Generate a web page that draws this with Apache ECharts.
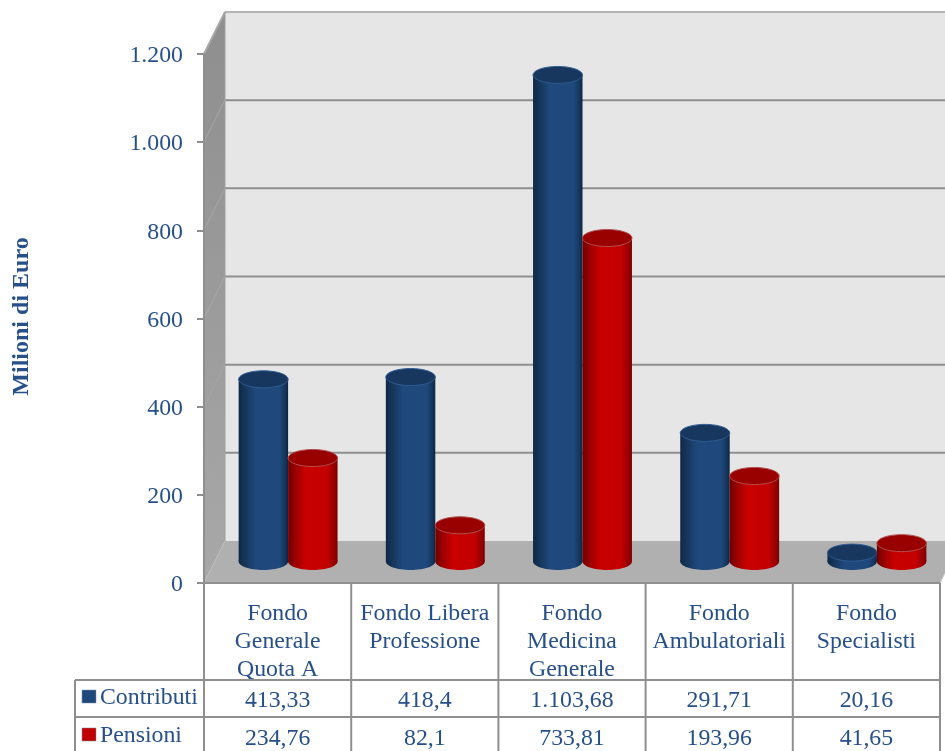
<!DOCTYPE html>
<html>
<head>
<meta charset="utf-8">
<title>Contributi e pensioni</title>
<script src="https://cdn.jsdelivr.net/npm/echarts@6/dist/echarts.min.js"></script>
<style>
  html, body { margin: 0; padding: 0; background: #fff; }
  #chart { width: 945px; height: 751px; }
</style>
</head>
<body>
<div id="chart"></div>
<script>
const categories = [
  'Fondo\nGenerale\nQuota A',
  'Fondo Libera\nProfessione',
  'Fondo\nMedicina\nGenerale',
  'Fondo\nAmbulatoriali',
  'Fondo\nSpecialisti'
]
const contributi = [413.33, 418.4, 1103.68, 291.71, 20.16]
const pensioni = [234.76, 82.1, 733.81, 193.96, 41.65]
const contributiLabels = ['413,33', '418,4', '1.103,68', '291,71', '20,16']
const pensioniLabels = ['234,76', '82,1', '733,81', '193,96', '41,65']
const yTicks = [0, 200, 400, 600, 800, 1000, 1200]

const font = 'Liberation Serif'
const fontSize = 23.8
const textColor = '#27508a'
const lineColor = '#8f8f8f'
const blue = '#1f497d'
const red = '#c00000'
// 3d depth of the box, in pixels
const depthX = 21
const depthY = -42

const linear = (stops) => ({
  type: 'linear', x: 0, y: 0, x2: 1, y2: 0,
  colorStops: stops.map(s => ({ offset: s[0], color: s[1] }))
})

function renderCylinder(side, body, top, rim) {
  return function (params, api) {
    const band = api.size([1, 0])[0]
    const rx = band * 0.168
    const ry = 8.5
    const base = api.coord([api.value(0), 0])
    const head = api.coord([api.value(0), api.value(1)])
    const cx = base[0] + depthX / 2 + side * rx
    const y0 = base[1] + depthY / 2 - 0.5
    const y1 = head[1] + depthY / 2 - 0.5
    const fill = { fill: linear(body) }
    return {
      type: 'group',
      children: [
        { type: 'ellipse', shape: { cx: cx, cy: y0, rx: rx, ry: ry }, style: fill },
        { type: 'rect', shape: { x: cx - rx, y: y1, width: rx * 2, height: y0 - y1 }, style: fill },
        { type: 'ellipse', shape: { cx: cx, cy: y1, rx: rx, ry: ry }, style: { fill: top, stroke: rim, lineWidth: 1 } }
      ]
    }
  }
}

// walls and floor of the box, hung on the axis coordinates
function renderBox(params, api) {
  const left = params.coordSys.x
  const right = left + params.coordSys.width
  const y0 = api.coord([0, 0])[1]
  const yTop = api.coord([0, 1200])[1]
  const children = [
    { type: 'polygon', shape: { points: [[left + depthX, yTop + depthY], [right + depthX, yTop + depthY], [right + depthX, y0 + depthY], [left + depthX, y0 + depthY]] }, style: { fill: '#e6e6e6' } },
    { type: 'polygon', shape: { points: [[left, yTop], [left + depthX, yTop + depthY], [left + depthX, y0 + depthY], [left, y0]] },
      style: { fill: { type: 'linear', x: 0, y: 0, x2: 0, y2: 1, colorStops: [{ offset: 0, color: '#8e8e8e' }, { offset: 1, color: '#a8a8a8' }] } } },
    { type: 'polygon', shape: { points: [[left, y0], [left + depthX, y0 + depthY], [right + depthX, y0 + depthY], [right, y0]] }, style: { fill: '#b0b0b0' } }
  ]
  yTicks.forEach(t => {
    if (t === 0) return
    const y = api.coord([0, t])[1]
    children.push({ type: 'line', shape: { x1: left + depthX, y1: y + depthY, x2: right + depthX, y2: y + depthY }, style: { stroke: t === 1200 ? '#b4b4b4' : lineColor, lineWidth: 2 } })
    children.push({ type: 'line', shape: { x1: left, y1: y, x2: left + depthX, y2: y + depthY }, style: { stroke: '#a6a6a6', lineWidth: 1 } })
  })
  children.push({ type: 'line', shape: { x1: left, y1: yTop, x2: left + depthX, y2: yTop + depthY }, style: { stroke: '#a6a6a6', lineWidth: 2 } })
  children.push({ type: 'line', shape: { x1: left + depthX, y1: yTop + depthY, x2: left + depthX, y2: y0 + depthY }, style: { stroke: '#a0a0a0', lineWidth: 1 } })
  children.push({ type: 'line', shape: { x1: left, y1: y0, x2: left + depthX, y2: y0 + depthY }, style: { stroke: '#bdbdbd', lineWidth: 1 } })
  children.push({ type: 'line', shape: { x1: right, y1: y0, x2: right + depthX, y2: y0 + depthY }, style: { stroke: '#c8c8c8', lineWidth: 1 } })
  return { type: 'group', children: children }
}

// data table under the chart, with the legend keys in its first column
function renderTable(params, api) {
  const left = params.coordSys.x
  const band = params.coordSys.width / categories.length
  const right = left + params.coordSys.width
  const y0 = api.coord([0, 0])[1]
  const row1 = 680
  const row2 = 717
  const bottom = 751
  const tableLeft = 75
  const line = (x1, y1, x2, y2) => ({ type: 'line', shape: { x1, y1, x2, y2 }, style: { stroke: lineColor, lineWidth: 2 } })
  const children = [
    line(left, y0, right, y0),
    line(tableLeft, row1, right, row1),
    line(tableLeft, row2, right, row2),
    line(tableLeft, row1, tableLeft, bottom)
  ]
  for (let i = 0; i <= categories.length; i++) {
    const x = left + band * i
    children.push(line(x, y0, x, bottom))
  }
  const cell = (text, x, y, align) => ({
    type: 'text',
    style: { text: text, x: x, y: y, fill: textColor, font: fontSize + 'px "' + font + '"', textAlign: align || 'center', textVerticalAlign: 'middle' }
  })
  const key = (color, y) => ({ type: 'rect', shape: { x: 82, y: y, width: 14, height: 13 }, style: { fill: color, stroke: '#7f8fa6', lineWidth: 0.5 } })
  children.push(key(blue, 690), cell('Contributi', 100, 698, 'left'))
  children.push(key(red, 728), cell('Pensioni', 100, 736, 'left'))
  categories.forEach((c, i) => {
    const x = left + band * (i + 0.5)
    children.push(cell(contributiLabels[i], x, 701))
    children.push(cell(pensioniLabels[i], x, 739))
  })
  return { type: 'group', children: children }
}

const option = {
  backgroundColor: '#fff',
  animation: false,
  textStyle: { fontFamily: font, color: textColor },
  grid: { left: 204, right: 5, top: 54, bottom: 168 },
  xAxis: {
    type: 'category',
    data: categories,
    axisLine: { show: false },
    axisTick: { show: false },
    axisLabel: { interval: 0, margin: 17, fontFamily: font, fontSize: fontSize, lineHeight: 28, color: textColor }
  },
  yAxis: {
    type: 'value',
    min: 0,
    max: 1200,
    interval: 200,
    name: 'Milioni di Euro',
    nameLocation: 'middle',
    nameRotate: 90,
    nameGap: 170,
    nameTextStyle: { fontFamily: font, fontSize: 24, fontWeight: 'bold', color: textColor, padding: [0, 0, 0, 4] },
    axisLine: { show: true, lineStyle: { color: lineColor, width: 2 } },
    axisTick: { show: true, length: 7, lineStyle: { color: lineColor, width: 2 } },
    splitLine: { show: false },
    axisLabel: {
      margin: 21,
      formatter: v => '{n|' + (v >= 1000 ? String(v).replace(/(\d)(\d{3})$/, '$1.$2') : String(v)) + '}',
      rich: { n: { fontFamily: font, fontSize: fontSize, color: textColor, padding: [4, 0, 0, 0] } }
    }
  },
  series: [
    { type: 'custom', name: 'box', z: 0, silent: true, renderItem: renderBox, data: [[0, 0]] },
    {
      type: 'custom',
      name: 'Contributi',
      z: 3,
      itemStyle: { color: blue },
      encode: { x: 0, y: 1 },
      renderItem: renderCylinder(-1, [[0, '#0e2846'], [0.12, '#153558'], [0.35, '#1f497d'], [0.82, '#1f497d'], [0.95, '#14345a'], [1, '#0c2340']], '#17375e', '#2f5c92'),
      data: contributi.map((v, i) => [i, v])
    },
    {
      type: 'custom',
      name: 'Pensioni',
      z: 4,
      itemStyle: { color: red },
      encode: { x: 0, y: 1 },
      renderItem: renderCylinder(1, [[0, '#6e0000'], [0.12, '#940000'], [0.35, '#c80000'], [0.78, '#c40000'], [0.95, '#900000'], [1, '#780000']], '#990000', '#b05050'),
      data: pensioni.map((v, i) => [i, v])
    },
    { type: 'custom', name: 'table', z: 1, silent: true, renderItem: renderTable, data: [[0, 0]] }
  ]
}

const chart = echarts.init(document.getElementById('chart'))
chart.setOption(option)
</script>
</body>
</html>
